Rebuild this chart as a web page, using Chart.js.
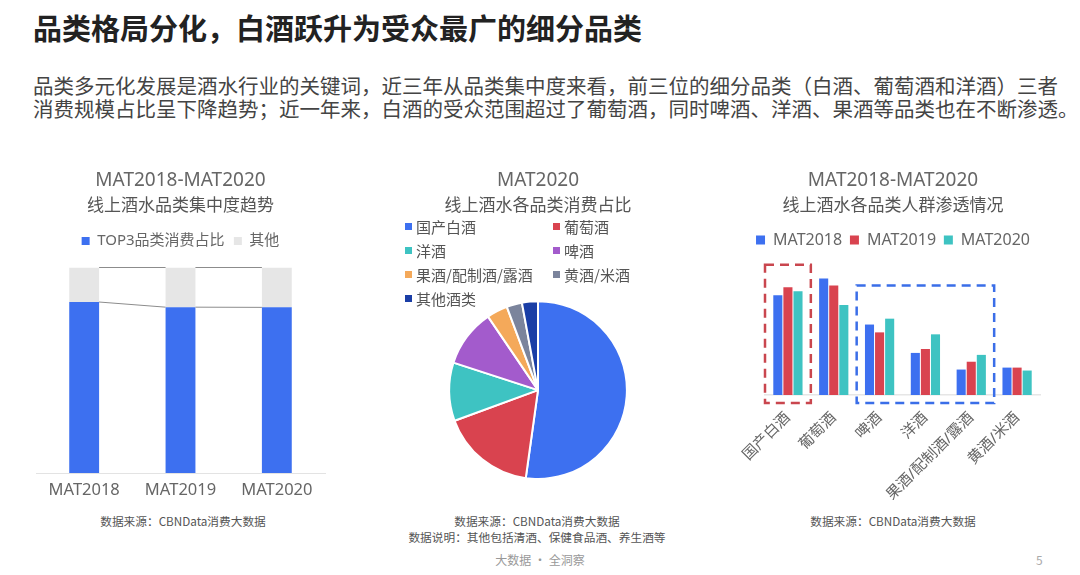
<!DOCTYPE html>
<html lang="zh-CN">
<head>
<meta charset="utf-8">
<title>品类格局分化</title>
<script src="https://cdn.jsdelivr.net/npm/chart.js@4.4.1/dist/chart.umd.min.js"></script>
<style>
    html, body { margin: 0; padding: 0; background: #fff; }
    body {
        width: 1080px; height: 575px; position: relative; overflow: hidden;
        font-family: "Noto Sans CJK SC", "Noto Sans", sans-serif;
    }
    .abs { position: absolute; }
    #pageTitle {
        left: 33px; top: 10px; font-size: 29px; line-height: 34px;
        font-weight: 700; color: #222; white-space: nowrap;
    }
    #pageIntro {
        left: 33px; top: 74px; font-size: 20.5px; line-height: 23px;
        color: #444; white-space: nowrap;
    }
    .chartBox { position: absolute; }
    .note { font-size: 11.7px; line-height: 16px; color: #555; text-align: center; white-space: nowrap; }
    #pieLegend {
        left: 405px; top: 214px; display: grid;
        grid-template-columns: 148px auto; grid-auto-rows: 24.2px;
        font-size: 15px; color: #555;
    }
    #pieLegend .item { display: flex; align-items: center; white-space: nowrap; }
    #pieLegend .swatch { width: 7px; height: 7px; margin-right: 4px; flex-shrink: 0; }
    #footer { left: 0; width: 1080px; top: 552px; font-size: 12px; line-height: 16px; color: #999; text-align: center; }
    #pageNo { left: 1036px; top: 552px; font-size: 12px; line-height: 16px; color: #aaa; }
</style>
</head>
<body>

<div id="pageTitle" class="abs">品类格局分化，白酒跃升为受众最广的细分品类</div>
<div id="pageIntro" class="abs">品类多元化发展是酒水行业的关键词，近三年从品类集中度来看，前三位的细分品类（白酒、葡萄酒和洋酒）三者<br>消费规模占比呈下降趋势；近一年来，白酒的受众范围超过了葡萄酒，同时啤酒、洋酒、果酒等品类也在不断渗透。</div>

<div class="chartBox" style="left:30px; top:160px; width:300px; height:345px;">
    <canvas id="shareChart"></canvas>
</div>
<div class="chartBox" style="left:380px; top:160px; width:316px; height:345px;">
    <canvas id="pieChart"></canvas>
</div>
<div id="pieLegend" class="abs"></div>
<div class="chartBox" style="left:720px; top:160px; width:340px; height:350px;">
    <canvas id="reachChart"></canvas>
</div>

<div class="abs note" style="left:83px; width:200px; top:513px;">数据来源：CBNData消费大数据</div>
<div class="abs note" style="left:387px; width:300px; top:513px;">数据来源：CBNData消费大数据<br>数据说明：其他包括清酒、保健食品酒、养生酒等</div>
<div class="abs note" style="left:793px; width:200px; top:513px;">数据来源：CBNData消费大数据</div>
<div id="footer" class="abs">大数据 · 全洞察</div>
<div id="pageNo" class="abs">5</div>

<script>
// ---- data ----
const yearLabels = ['MAT2018', 'MAT2019', 'MAT2020'];
const top3Share = [83.2, 80.7, 80.6];
const otherShare = [16.8, 19.3, 19.4];

const pieLabels = ['国产白酒', '葡萄酒', '洋酒', '啤酒', '果酒/配制酒/露酒', '黄酒/米酒', '其他酒类'];
const pieShares = [52.2, 17.2, 10.6, 10.5, 3.8, 2.8, 2.9];

const reachCategories = ['国产白酒', '葡萄酒', '啤酒', '洋酒', '果酒/配制酒/露酒', '黄酒/米酒'];
const reach2018 = [102, 119, 72, 43, 26, 28];
const reach2019 = [110, 112, 64, 47, 34, 28];
const reach2020 = [106, 92, 78, 62, 41, 25];

// colours
const BLUE = '#3d70f0';
const RED = '#d9434f';
const CYAN = '#3ec3c2';
const pieColors = [BLUE, RED, CYAN, '#a35bcc', '#f4a95a', '#7b849c', '#1a3ea6'];

Chart.defaults.font.family = '"Noto Sans", "Noto Sans CJK SC", sans-serif';
Chart.defaults.color = '#666';
Chart.defaults.animation = false;

// dashed highlight frames on the penetration chart (category index range, top in data units)
const focusBoxes = [
    { from: 0, to: 0, top: 133, color: '#c9464e' },
    { from: 2, to: 4, top: 112, color: '#3a6ee8' }
];

/**
 * Push the plot area a little further below the legend
 */
const legendGap = {
    id: 'legendGap',
    beforeInit(chart, args, opts) {
        const originalFit = chart.legend.fit;
        chart.legend.fit = function fit() {
            originalFit.bind(chart.legend)();
            this.height += opts.gap || 0;
        };
    }
};

/**
 * Thin connector lines between the stacked bars (Excel style series lines)
 */
const seriesLines = {
    id: 'seriesLines',
    afterDatasetsDraw(chart) {
        const ctx = chart.ctx;
        ctx.save();
        ctx.strokeStyle = '#8c8c8c';
        ctx.lineWidth = 1;
        chart.data.datasets.forEach((ds, i) => {
            const bars = chart.getDatasetMeta(i).data;
            for (let j = 0; j < bars.length - 1; j++) {
                const a = bars[j];
                const b = bars[j + 1];
                ctx.beginPath();
                ctx.moveTo(a.x + a.width / 2, a.y);
                ctx.lineTo(b.x - b.width / 2, b.y);
                ctx.stroke();
            }
        });
        ctx.restore();
    }
};

/**
 * Dashed frames around groups of categories
 */
const focusFrames = {
    id: 'focusFrames',
    afterDatasetsDraw(chart) {
        const { ctx, scales: { x, y } } = chart;
        const half = (x.getPixelForValue(1) - x.getPixelForValue(0)) / 2;
        ctx.save();
        ctx.lineWidth = 2.5;
        ctx.setLineDash([9, 6]);
        focusBoxes.forEach(box => {
            const left = x.getPixelForValue(box.from) - half;
            const right = x.getPixelForValue(box.to) + half;
            const top = y.getPixelForValue(box.top);
            const bottom = y.getPixelForValue(0) + 8;
            ctx.strokeStyle = box.color;
            ctx.strokeRect(left, top, right - left, bottom - top);
        });
        ctx.restore();
    }
};

/**
 * Two column HTML legend for the pie
 */
const htmlLegend = {
    id: 'htmlLegend',
    afterUpdate(chart, args, opts) {
        const container = document.getElementById(opts.containerID);
        if (!container) return;
        container.innerHTML = '';
        const items = chart.options.plugins.legend.labels.generateLabels(chart);
        items.forEach(item => {
            const row = document.createElement('div');
            row.className = 'item';
            const swatch = document.createElement('span');
            swatch.className = 'swatch';
            swatch.style.background = item.fillStyle;
            const text = document.createElement('span');
            text.textContent = item.text;
            row.appendChild(swatch);
            row.appendChild(text);
            container.appendChild(row);
        });
    }
};

function chartTitles(title, subtitle, subBottom) {
    return {
        title: {
            display: true, text: title, color: '#666',
            font: { size: 19, weight: 'normal' },
            padding: { top: 9, bottom: 0 }
        },
        subtitle: {
            display: true, text: subtitle, color: '#555',
            font: { size: 17, weight: 'normal' },
            padding: { top: 4, bottom: subBottom }
        }
    };
}

// ---- left: TOP3 concentration ----
new Chart(document.getElementById('shareChart'), {
    type: 'bar',
    data: {
        labels: yearLabels,
        datasets: [{
            label: 'TOP3品类消费占比',
            data: top3Share,
            backgroundColor: BLUE
        }, {
            label: '其他',
            data: otherShare,
            backgroundColor: '#e6e6e6'
        }]
    },
    options: {
        responsive: true,
        maintainAspectRatio: false,
        layout: { padding: { left: 6, right: 5, bottom: 5 } },
        datasets: { bar: { categoryPercentage: 1, barPercentage: 0.31, borderWidth: 0 } },
        scales: {
            x: {
                stacked: true,
                grid: { display: false, drawTicks: false },
                border: { color: '#e3e3e3' },
                ticks: { color: '#666', font: { size: 16.5 }, padding: 7 },
                afterFit(scale) { scale.height = 27; }
            },
            y: { stacked: true, display: false, min: 0, max: 100 }
        },
        plugins: {
            ...chartTitles('MAT2018-MAT2020', '线上酒水品类集中度趋势', 8),
            legend: {
                position: 'top',
                labels: { boxWidth: 8, boxHeight: 8, padding: 9.3, color: '#666', font: { size: 15 } }
            },
            legendGap: { gap: 9 },
            tooltip: { enabled: false }
        }
    },
    plugins: [legendGap, seriesLines]
});

// ---- middle: category share pie ----
new Chart(document.getElementById('pieChart'), {
    type: 'pie',
    data: {
        labels: pieLabels,
        datasets: [{
            data: pieShares,
            backgroundColor: pieColors,
            borderColor: '#fff',
            borderWidth: 2
        }]
    },
    options: {
        responsive: true,
        maintainAspectRatio: false,
        layout: { padding: { bottom: 25 } },
        plugins: {
            ...chartTitles('MAT2020', '线上酒水各品类消费占比', 84),
            legend: { display: false },
            htmlLegend: { containerID: 'pieLegend' },
            tooltip: { enabled: false }
        }
    },
    plugins: [htmlLegend]
});

// ---- right: audience penetration ----
new Chart(document.getElementById('reachChart'), {
    type: 'bar',
    data: {
        labels: reachCategories,
        datasets: [
            { label: 'MAT2018', data: reach2018, backgroundColor: BLUE },
            { label: 'MAT2019', data: reach2019, backgroundColor: RED },
            { label: 'MAT2020', data: reach2020, backgroundColor: CYAN }
        ]
    },
    options: {
        responsive: true,
        maintainAspectRatio: false,
        layout: { padding: { left: 26, right: 20, bottom: 10 } },
        datasets: { bar: { categoryPercentage: 0.66, barPercentage: 0.9, borderWidth: 0 } },
        scales: {
            x: {
                grid: { display: false, drawTicks: false },
                border: { color: '#e6e6e6', width: 1.5 },
                ticks: {
                    color: '#666', font: { size: 15 }, padding: 14,
                    autoSkip: false, minRotation: 45, maxRotation: 45
                },
                afterFit(scale) { scale.height = 105; }
            },
            y: {
                min: 0, max: 140,
                grid: { display: false },
                border: { display: false },
                ticks: { display: false },
                afterFit(scale) { scale.width = 19; }
            }
        },
        plugins: {
            ...chartTitles('MAT2018-MAT2020', '线上酒水各品类人群渗透情况', 8),
            legend: {
                position: 'top',
                labels: { boxWidth: 9, boxHeight: 9, padding: 7.8, color: '#666', font: { size: 16 } }
            },
            legendGap: { gap: 0 },
            tooltip: { enabled: false }
        }
    },
    plugins: [legendGap, focusFrames]
});
</script>
</body>
</html>
